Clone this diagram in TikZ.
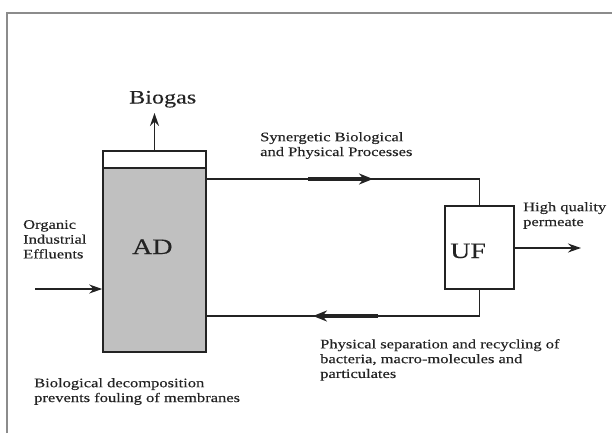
\documentclass[tikz,border=0pt]{standalone}
\usepackage{fontspec}
\setmainfont{Liberation Serif}[FakeStretch=1.27, FakeBold=0.3]
\usetikzlibrary{arrows.meta}
\definecolor{ink}{RGB}{35,35,35}
\definecolor{tankfill}{RGB}{192,192,192}
\definecolor{framecol}{RGB}{140,140,140}
\tikzset{
  line/.style={draw=ink, line width=1.6pt},
  arr/.style={line, -{Stealth[length=13pt,width=9pt]}},
  thickarr/.style={draw=ink, line width=3.2pt, -{Stealth[length=14pt,width=11pt]}},
  lbl/.style={inner sep=0pt, text=ink, font=\fontsize{13}{14.8}\selectfont, align=left},
  biglbl/.style={inner sep=0pt, text=ink, font=\fontsize{22}{24}\selectfont},
  tankbox/.style={draw=ink, line width=1.6pt, fill=tankfill, minimum width=103pt, minimum height=184pt, inner sep=0pt},
  capbox/.style={draw=ink, line width=1.6pt, fill=white, minimum width=103pt, minimum height=17pt, inner sep=0pt},
  ufbox/.style={draw=ink, line width=1.6pt, fill=white, minimum width=69pt, minimum height=83pt, inner sep=0pt},
}
\begin{document}
\begin{tikzpicture}[x=1pt,y=-1pt]
\useasboundingbox (0,0) rectangle (612,433);
% frame
\draw[framecol, line width=1.5pt] (7,433) -- (7,13) -- (612,13);
% units
\node[tankbox] (tank) at (154.5,260) {};
\node[capbox] (cap) at (154.5,159.5) {};
\node[ufbox] (uf) at (479.5,247.5) {};
\node[biglbl, anchor=base west] (adlbl) at (132,254) {AD};
\node[biglbl, anchor=base west] (uflbl) at (450,258) {UF};
% coordinates
\coordinate (gastip) at (154.5,113);
\coordinate (c1) at (479.5,179);
\coordinate (c2) at (479.5,316);
\coordinate (outtip) at (581,248);
\coordinate (intail) at (35,289);
\coordinate (t1) at (308,179);
\coordinate (t2) at (373,179);
\coordinate (b1) at (378,316);
\coordinate (b2) at (313,316);
% connectors
\draw[arr] (cap.north) -- (gastip);
\draw[line] (tank.east |- c1) -- (c1) -- (uf.north);
\draw[line] (uf.south) -- (c2) -- (tank.east |- c2);
\draw[arr] (uf.east |- outtip) -- (outtip);
\draw[arr] (intail) -- (tank.west |- intail);
\draw[thickarr] (t1) -- (t2);
\draw[thickarr] (b1) -- (b2);
% labels
\node[anchor=base west, inner sep=0pt, text=ink, font=\fontsize{19}{22}\selectfont] (biogas) at (129,103.5) {Biogas};
\node[lbl, anchor=north west] (organic) at (23,220) {Organic\\Industrial\\Effluents};
\node[lbl, anchor=north west] (syn) at (260,132) {Synergetic Biological\\and Physical Processes};
\node[lbl, anchor=north west] (hq) at (523,202) {High quality\\permeate};
\node[lbl, anchor=north west] (phys) at (320,339) {Physical separation and recycling of\\bacteria, macro-molecules and\\particulates};
\node[lbl, anchor=north west] (bio) at (34,378) {Biological decomposition\\prevents fouling of membranes};
\end{tikzpicture}
\end{document}
